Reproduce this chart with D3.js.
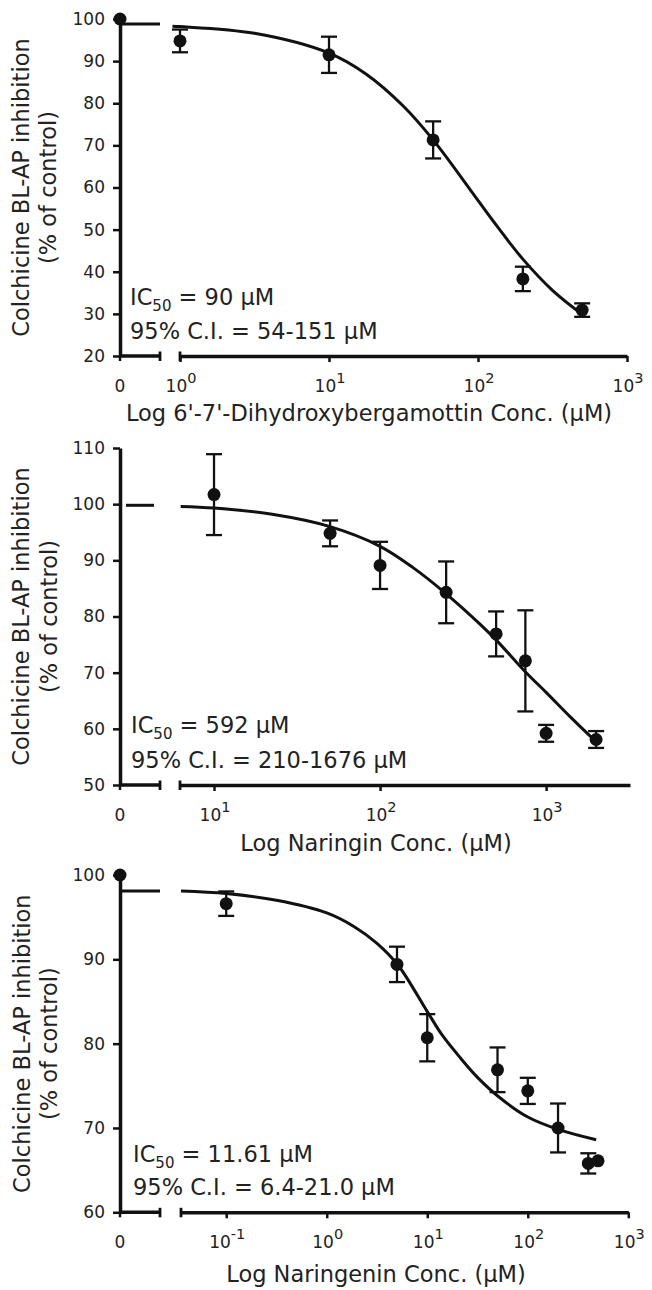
<!DOCTYPE html>
<html>
<head>
<meta charset="utf-8">
<script src="https://cdnjs.cloudflare.com/ajax/libs/d3/7.8.5/d3.min.js"></script>
<style>
    body { margin: 0; background: #fff; }
    text { font-family: "DejaVu Sans", Verdana, sans-serif; fill: #222; }
</style>
</head>
<body>
<div id="chart"></div>
<script>
// ---- panel 1: 6',7'-dihydroxybergamottin ----
var dhbConc = [1, 10, 50, 200, 500];
var dhbMean = [94.8, 91.5, 71.3, 38.3, 30.9];
var dhbSem = [2.7, 4.3, 4.4, 2.9, 1.6];
var dhbFitConc = [0.89, 1, 3.16, 10, 17.8, 31.6, 50, 89, 126, 200, 316, 500];
var dhbFitValue = [98.3, 98.2, 96.6, 91.9, 86.9, 79.3, 71.3, 59.4, 52.1, 43, 35.6, 29.9];
var dhbZero = [100];
var dhbPlateau = [98.8];
var dhbYTicks = [20, 30, 40, 50, 60, 70, 80, 90, 100];
var dhbXExp = [0, 1, 2, 3];
var dhbTitle = "Log 6'-7'-Dihydroxybergamottin Conc. (\u00b5M)";
var dhbIc = ["90 \u00b5M", "95% C.I. = 54-151 \u00b5M"];

// ---- panel 2: naringin ----
var narConc = [10, 50, 100, 250, 500, 750, 1000, 2000];
var narMean = [101.7, 94.8, 89.1, 84.3, 76.9, 72.1, 59.2, 58.1];
var narSem = [7.2, 2.3, 4.2, 5.5, 4.0, 9.0, 1.5, 1.5];
var narFitConc = [6.3, 10, 22.4, 50, 100, 158, 251, 398, 501, 759, 1000, 1413, 2000];
var narFitValue = [99.6, 99.3, 98.2, 96, 92.5, 88.7, 84, 78.7, 75.8, 70, 66.5, 62, 57.7];
var narZero = [];
var narPlateau = [99.8];
var narYTicks = [50, 60, 70, 80, 90, 100, 110];
var narXExp = [1, 2, 3];
var narTitle = "Log Naringin Conc. (\u00b5M)";
var narIc = ["592 \u00b5M", "95% C.I. = 210-1676 \u00b5M"];

// ---- panel 3: naringenin ----
var ngnConc = [0.1, 5, 10, 50, 100, 200, 400, 500];
var ngnMean = [96.6, 89.4, 80.7, 76.9, 74.4, 70.0, 65.8, 66.1];
var ngnSem = [1.45, 2.1, 2.8, 2.65, 1.55, 2.9, 1.2, 0];
var ngnFitConc = [0.0355, 0.1, 0.316, 1, 1.86, 3.16, 5.13, 10, 14.1, 21.4, 31.6, 51.3, 100, 204, 479];
var ngnFitValue = [98.1, 97.8, 97.0, 95.5, 93.9, 91.9, 89.3, 83.8, 81, 78.3, 76.0, 73.7, 71.3, 69.8, 68.6];
var ngnZero = [100];
var ngnPlateau = [98.1];
var ngnYTicks = [60, 70, 80, 90, 100];
var ngnXExp = [-1, 0, 1, 2, 3];
var ngnTitle = "Log Naringenin Conc. (\u00b5M)";
var ngnIc = ["11.61 \u00b5M", "95% C.I. = 6.4-21.0 \u00b5M"];

function pack(conc, mean, sem) {
    return conc.map(function(c, i) {
        return { conc: c, mean: mean[i], sem: sem[i] };
    });
}

var panels = [
    {
        points: pack(dhbConc, dhbMean, dhbSem),
        fit: dhbFitConc.map(function(c, i) { return [c, dhbFitValue[i]]; }),
        zero: dhbZero, plateau: dhbPlateau, plateauX: [120, 160],
        yTicks: dhbYTicks, xExp: dhbXExp, title: dhbTitle, ic: dhbIc,
        yDomain: [20, 100], yRange: [356, 19],
        xDomain: [1, 1000], xRange: [180, 627],
        titleX: 369, titleY: 421, icY: [305, 339], icX: 130, yTitleX: [28.5, 55.5]
    },
    {
        points: pack(narConc, narMean, narSem),
        fit: narFitConc.map(function(c, i) { return [c, narFitValue[i]]; }),
        zero: narZero, plateau: narPlateau, plateauX: [126, 154],
        yTicks: narYTicks, xExp: narXExp, title: narTitle, ic: narIc,
        yDomain: [50, 110], yRange: [785, 448],
        xDomain: [6.24, 3200], xRange: [180, 630],
        titleX: 376, titleY: 851, icY: [733, 768], icX: 131, yTitleX: [29, 56.5]
    },
    {
        points: pack(ngnConc, ngnMean, ngnSem),
        fit: ngnFitConc.map(function(c, i) { return [c, ngnFitValue[i]]; }),
        zero: ngnZero, plateau: ngnPlateau, plateauX: [120, 160],
        yTicks: ngnYTicks, xExp: ngnXExp, title: ngnTitle, ic: ngnIc,
        yDomain: [60, 100], yRange: [1212.3, 875],
        xDomain: [0.0355, 1000], xRange: [181, 628.3],
        titleX: 376, titleY: 1282, icY: [1161.5, 1195], icX: 133, yTitleX: [29.5, 57]
    }
];

var svg = d3.select('#chart')
    .append('svg')
    .attr('width', 652)
    .attr('height', 1290);

svg.append('rect').attr('width', 652).attr('height', 1290).attr('fill', '#fff');

var axisX0 = 120;

panels.forEach(drawPanel);

function drawPanel(cfg) {
    var y = d3.scaleLinear().domain(cfg.yDomain).range(cfg.yRange);
    var x = d3.scaleLog().domain(cfg.xDomain).range(cfg.xRange);
    var base = cfg.yRange[0];
    var g = svg.append('g');

    // y axis
    var yAxis = g.append('g')
        .attr('transform', 'translate(' + axisX0 + ',0)')
        .call(d3.axisLeft(y).tickValues(cfg.yTicks).tickSize(7).tickSizeOuter(0).tickPadding(8));
    yAxis.select('.domain').attr('stroke', '#111').attr('stroke-width', 3.5);
    yAxis.selectAll('.tick line').attr('stroke', '#111').attr('stroke-width', 2.5);
    yAxis.selectAll('.tick text').style('font-size', '17px').attr('fill', '#222');

    // x axis, broken: a short zero segment and the log part
    g.append('line')
        .attr('x1', axisX0).attr('x2', 160)
        .attr('y1', base).attr('y2', base)
        .attr('stroke', '#111').attr('stroke-width', 3.5);
    [160, cfg.xRange[0]].forEach(function(cx) {
        g.append('line')
            .attr('x1', cx).attr('x2', cx)
            .attr('y1', base - 4.5).attr('y2', base + 5)
            .attr('stroke', '#111').attr('stroke-width', 2.8);
    });
    g.append('line')
        .attr('x1', axisX0).attr('x2', axisX0)
        .attr('y1', base).attr('y2', base + 5)
        .attr('stroke', '#111').attr('stroke-width', 2.5);

    var xAxis = g.append('g')
        .attr('transform', 'translate(0,' + base + ')')
        .call(d3.axisBottom(x)
            .tickValues(cfg.xExp.map(function(e) { return Math.pow(10, e); }))
            .tickSize(6).tickSizeOuter(0).tickFormat(''));
    xAxis.select('.domain').attr('stroke', '#111').attr('stroke-width', 3.5);
    xAxis.selectAll('.tick line').attr('stroke', '#111').attr('stroke-width', 2.5);

    // x tick labels
    g.append('text')
        .attr('x', axisX0).attr('y', base + 36)
        .attr('text-anchor', 'middle')
        .style('font-size', '17px')
        .text('0');
    cfg.xExp.forEach(function(e) {
        var t = g.append('text')
            .attr('x', x(Math.pow(10, e)) + 1)
            .attr('y', base + 36)
            .attr('text-anchor', 'middle')
            .style('font-size', '17px');
        t.append('tspan').text('10');
        t.append('tspan').attr('dy', -9).style('font-size', '14.5px').text(e < 0 ? '-' + Math.abs(e) : e);
    });

    // axis titles
    g.append('text')
        .attr('x', cfg.titleX).attr('y', cfg.titleY)
        .attr('text-anchor', 'middle')
        .style('font-size', '22.5px')
        .text(cfg.title);
    var cy = (cfg.yRange[0] + cfg.yRange[1]) / 2;
    ['Colchicine BL-AP inhibition', '(% of control)'].forEach(function(s, i) {
        g.append('text')
            .attr('transform', 'translate(' + cfg.yTitleX[i] + ',' + cy + ') rotate(-90)')
            .attr('text-anchor', 'middle')
            .style('font-size', '22.5px')
            .text(s);
    });

    // IC50 annotation
    var ic = g.append('text')
        .attr('x', cfg.icX).attr('y', cfg.icY[0])
        .style('font-size', '22.5px');
    ic.append('tspan').text('IC');
    ic.append('tspan').attr('dy', 6).style('font-size', '15px').text('50');
    ic.append('tspan').attr('dy', -6).text(' = ' + cfg.ic[0]);
    g.append('text')
        .attr('x', cfg.icX).attr('y', cfg.icY[1])
        .style('font-size', '22.5px')
        .text(cfg.ic[1]);

    // plateau dash in the zero segment
    cfg.plateau.forEach(function(v) {
        g.append('line')
            .attr('x1', cfg.plateauX[0]).attr('x2', cfg.plateauX[1])
            .attr('y1', y(v)).attr('y2', y(v))
            .attr('stroke', '#111').attr('stroke-width', 3);
    });

    // fitted curve
    var line = d3.line()
        .x(function(d) { return x(d[0]); })
        .y(function(d) { return y(d[1]); })
        .curve(d3.curveCatmullRom);
    g.append('path')
        .datum(cfg.fit)
        .attr('d', line)
        .attr('fill', 'none')
        .attr('stroke', '#111')
        .attr('stroke-width', 3);

    // error bars
    var bars = g.selectAll('.err')
        .data(cfg.points.filter(function(d) { return d.sem > 0; }))
        .enter()
        .append('g')
        .attr('class', 'err')
        .attr('stroke', '#111')
        .attr('stroke-width', 2.3);
    bars.append('line')
        .attr('x1', function(d) { return x(d.conc); })
        .attr('x2', function(d) { return x(d.conc); })
        .attr('y1', function(d) { return y(d.mean + d.sem); })
        .attr('y2', function(d) { return y(d.mean - d.sem); });
    [1, -1].forEach(function(s) {
        bars.append('line')
            .attr('x1', function(d) { return x(d.conc) - 8; })
            .attr('x2', function(d) { return x(d.conc) + 8; })
            .attr('y1', function(d) { return y(d.mean + s * d.sem); })
            .attr('y2', function(d) { return y(d.mean + s * d.sem); });
    });

    // points
    g.selectAll('.pt')
        .data(cfg.points)
        .enter()
        .append('circle')
        .attr('class', 'pt')
        .attr('cx', function(d) { return x(d.conc); })
        .attr('cy', function(d) { return y(d.mean); })
        .attr('r', 6.5)
        .attr('fill', '#111');

    g.selectAll('.zero')
        .data(cfg.zero)
        .enter()
        .append('circle')
        .attr('class', 'zero')
        .attr('cx', axisX0)
        .attr('cy', function(d) { return y(d); })
        .attr('r', 6.5)
        .attr('fill', '#111');
}
</script>
</body>
</html>
